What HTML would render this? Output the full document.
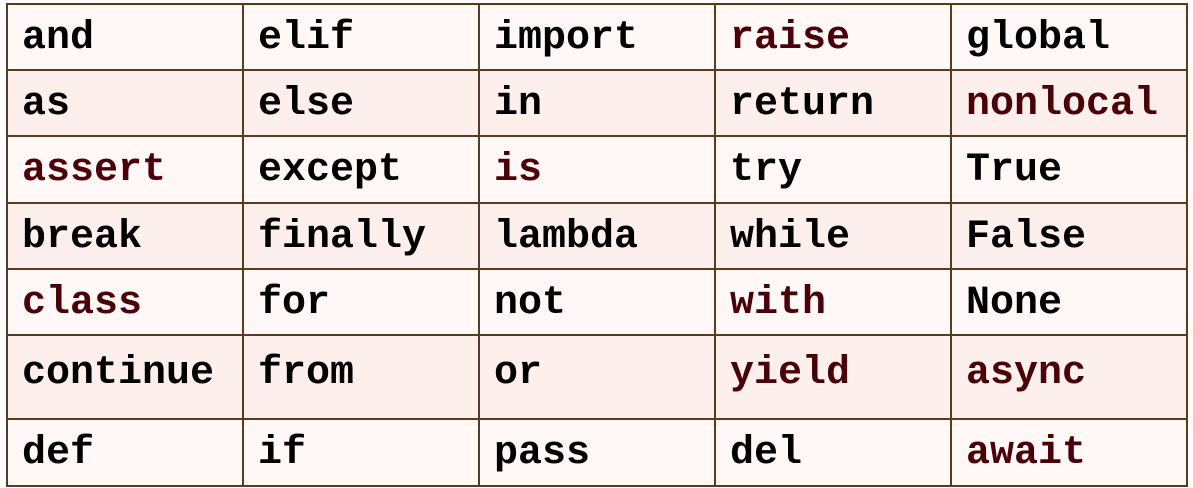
<!DOCTYPE html>
<html><head><style>
body{margin:0;width:1193px;height:488px;background:#fff;overflow:hidden}
table{position:absolute;left:6px;top:3px;border-collapse:collapse;width:1182px;font-family:"Liberation Mono",monospace;font-weight:bold;font-size:40px}
td{border:2px solid #5b3a1e;padding:3px 0 0 14px;vertical-align:middle;color:#000;width:235px;box-sizing:border-box;line-height:44px}
tr:nth-child(odd) td{background:#fff8f6}
tr:nth-child(even) td{background:#fdf0ec}
.r{color:#4a0008}
tr.t td{padding-top:0;padding-bottom:6px}
</style></head><body>
<table>
<tr style="height:66px"><td>and</td><td>elif</td><td>import</td><td class="r">raise</td><td>global</td></tr>
<tr style="height:66px"><td>as</td><td>else</td><td>in</td><td>return</td><td class="r">nonlocal</td></tr>
<tr style="height:67px"><td class="r">assert</td><td>except</td><td class="r">is</td><td>try</td><td>True</td></tr>
<tr style="height:66px"><td>break</td><td>finally</td><td>lambda</td><td>while</td><td>False</td></tr>
<tr style="height:66px"><td class="r">class</td><td>for</td><td>not</td><td class="r">with</td><td>None</td></tr>
<tr class="t" style="height:84px"><td>continue</td><td>from</td><td>or</td><td class="r">yield</td><td class="r">async</td></tr>
<tr style="height:67px"><td>def</td><td>if</td><td>pass</td><td>del</td><td class="r">await</td></tr>
</table>
</body></html>
